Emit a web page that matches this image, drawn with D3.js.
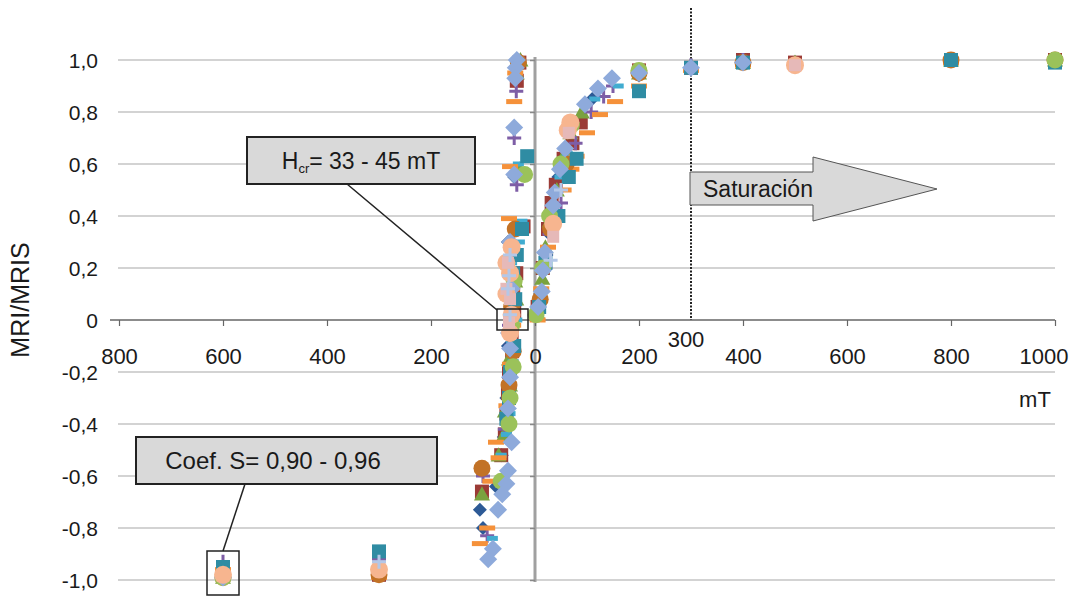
<!DOCTYPE html>
<html>
<head>
<meta charset="utf-8">
<script src="https://cdn.jsdelivr.net/npm/d3@7"></script>
<style>
  body { margin: 0; background: #fff; }
  svg { font-family: "Liberation Sans", Arial, sans-serif; }
</style>
</head>
<body>
<svg width="1072" height="596"></svg>
<script>
// ticks
var xTicks = [-800, -600, -400, -200, 0, 200, 400, 600, 800, 1000];
var yTicks = [-1, -0.8, -0.6, -0.4, -0.2, 0, 0.2, 0.4, 0.6, 0.8, 1];

// samples: [mT, MRI/MRIS]
var m1 = [[-32,0.98],[-40,0.55],[-52,0.30],[-48,0.20],[-50,0.10],[-46,0.0],[-52,-0.10],[-50,-0.20],[-55,-0.30],[-60,-0.45],[-64,-0.52],[-75,-0.64],[-106,-0.73],[-100,-0.80],[-300,-0.97],[-600,-0.98],
  [3,0.02],[10,0.10],[22,0.25],[28,0.33],[35,0.42],[45,0.55],[52,0.60],[60,0.66],[75,0.75],[110,0.85],[200,0.94],[300,0.97],[400,0.99],[500,0.99],[800,1.0],[1000,1.0]];
var m2 = [[-30,0.99],[-35,0.92],[-22,0.36],[-40,0.25],[-36,0.18],[-42,0.10],[-40,0.03],[-45,-0.05],[-44,-0.12],[-50,-0.20],[-52,-0.28],[-55,-0.36],[-58,-0.44],[-65,-0.52],[-102,-0.66],[-300,-0.98],[-600,-0.97],
  [5,0.05],[15,0.20],[25,0.35],[32,0.45],[40,0.52],[55,0.62],[72,0.68],[88,0.76],[200,0.96],[300,0.97],[400,1.0],[500,0.99],[800,1.0],[1000,1.0]];
var m3 = [[-28,1.0],[-35,0.95],[-30,0.58],[-45,0.30],[-38,0.15],[-36,0.08],[-44,0.02],[-42,-0.08],[-50,-0.15],[-48,-0.25],[-58,-0.35],[-62,-0.45],[-70,-0.52],[-102,-0.67],[-300,-0.96],[-600,-0.99],
  [4,0.03],[14,0.16],[20,0.28],[28,0.38],[42,0.50],[52,0.62],[68,0.72],[90,0.80],[200,0.95],[300,0.98],[400,0.99],[500,0.99],[800,1.0],[1000,1.0]];
var m4 = [[-36,0.97],[-36,0.88],[-40,0.70],[-35,0.52],[-42,0.30],[-40,0.14],[-50,-0.02],[-46,-0.10],[-48,-0.26],[-52,-0.34],[-58,-0.42],[-100,-0.60],[-92,-0.83],[-300,-0.92],[-600,-0.93],
  [8,0.06],[20,0.20],[28,0.33],[50,0.45],[65,0.60],[78,0.68],[108,0.80],[132,0.86],[150,0.90],[200,0.96],[300,0.98],[400,1.0],[800,1.0],[1000,1.0]];
var m5 = [[-30,1.0],[-32,0.60],[-25,0.38],[-30,0.30],[-45,0.22],[-40,0.08],[-35,0.0],[-45,-0.08],[-42,-0.16],[-50,-0.25],[-48,-0.36],[-55,-0.44],[-65,-0.52],[-82,-0.84],[-300,-0.95],[-600,-0.97],
  [6,0.04],[18,0.22],[30,0.38],[48,0.55],[62,0.64],[115,0.85],[160,0.90],[200,0.94],[300,0.98],[400,0.99],[500,0.98],[800,1.0],[1000,1.0]];
var m6 = [[-38,0.95],[-40,0.84],[-48,0.59],[-50,0.39],[-40,0.25],[-45,0.12],[-42,-0.02],[-48,-0.17],[-55,-0.33],[-75,-0.47],[-70,-0.53],[-86,-0.62],[-92,-0.80],[-106,-0.86],[-300,-0.99],[-600,-0.96],
  [5,0.0],[12,0.12],[25,0.28],[40,0.40],[55,0.50],[70,0.58],[80,0.63],[100,0.72],[125,0.79],[154,0.84],[200,0.90],[300,0.96],[400,0.98],[500,0.98],[800,0.99],[1000,1.0]];
var m7 = [[-32,0.99],[-38,0.35],[-45,0.05],[-42,-0.12],[-50,-0.25],[-102,-0.57],[-300,-0.98],[-600,-0.99],
  [10,0.08],[30,0.35],[60,0.60],[200,0.95],[400,0.99],[800,1.0],[1000,1.0]];
var m8 = [[-15,0.63],[-25,0.35],[-35,0.25],[-42,0.18],[-38,0.08],[-45,0.0],[-40,-0.10],[-48,-0.20],[-50,-0.30],[-55,-0.38],[-300,-0.89],[-600,-0.95],
  [8,0.05],[20,0.22],[45,0.40],[65,0.55],[80,0.62],[200,0.88],[300,0.97],[400,0.99],[800,1.0],[1000,0.99]];
var m9 = [[-20,0.56],[-40,0.15],[-45,-0.02],[-42,-0.18],[-48,-0.30],[-50,-0.40],[-65,-0.62],[-600,-0.99],
  [2,0.02],[15,0.20],[28,0.40],[50,0.60],[70,0.75],[200,0.96],[1000,1.0]];
var m10 = [[-35,1.0],[-37,0.97],[-38,0.93],[-40,0.74],[-40,0.56],[-48,0.30],[-45,0.12],[-50,-0.05],[-48,-0.11],[-48,-0.22],[-52,-0.34],[-45,-0.47],[-52,-0.58],[-55,-0.63],[-63,-0.67],[-71,-0.73],[-81,-0.88],[-90,-0.92],[-600,-0.99],
  [6,0.05],[13,0.11],[15,0.19],[19,0.26],[35,0.44],[38,0.49],[48,0.58],[58,0.66],[96,0.83],[121,0.89],[148,0.93],[200,0.95],[300,0.97],[400,0.99]];
var m11 = [[-45,0.28],[-55,0.22],[-48,0.18],[-55,0.10],[-45,0.02],[-48,-0.05],[-300,-0.96],[-600,-0.98],
  [35,0.37],[68,0.76],[63,0.73],[500,0.98]];
var m12 = [[-52,0.22],[-48,0.08],[-50,-0.01],[-55,0.12],[35,0.32],[65,0.72],[500,0.98]];
var m13 = [[-48,0.25],[-50,0.17],[-52,0.12],[-48,0.02],[-300,-0.93],[30,0.23],[50,0.50]];

var series = [
  { data: m1, shape: "diamond", size: 7, color: "#2d5a96" },
  { data: m2, shape: "square", size: 7, color: "#9b3b36" },
  { data: m3, shape: "triangle", size: 8, color: "#7aa23f" },
  { data: m4, shape: "plus", size: 7, color: "#7e5ea6" },
  { data: m5, shape: "dash", size: 5.5, color: "#41acd0" },
  { data: m6, shape: "dash", size: 8, color: "#f5913a" },
  { data: m7, shape: "circle", size: 8.5, color: "#c27226" },
  { data: m8, shape: "square", size: 7, color: "#2f8ca3" },
  { data: m9, shape: "circle", size: 8.5, color: "#9bc25a" },
  { data: m10, shape: "diamond", size: 9, color: "#8eaadb" },
  { data: m11, shape: "circle", size: 9, color: "#f7b58f" },
  { data: m12, shape: "square", size: 6, color: "#e6b9b8" },
  { data: m13, shape: "plus", size: 7, color: "#b4c7e7" }
];

var svg = d3.select("svg");

var x = d3.scaleLinear().domain([-800, 1000]).range([119, 1055]);
var y = d3.scaleLinear().domain([-1, 1]).range([580, 60]);

var fmt = function (d) { return d === 0 ? "0" : d.toFixed(1).replace(".", ","); };

// gridlines
svg.append("g").selectAll("line")
    .data(yTicks.filter(d => d !== 0))
    .enter().append("line")
    .attr("x1", 118).attr("x2", 1055)
    .attr("y1", d => y(d)).attr("y2", d => y(d))
    .style("stroke", "#c4c4c4").style("stroke-width", 1.5);

// y labels (far left)
svg.append("g").selectAll("text")
    .data(yTicks)
    .enter().append("text")
    .attr("x", 98).attr("y", d => y(d)).attr("dy", "0.36em")
    .attr("text-anchor", "end")
    .attr("font-size", 21).attr("fill", "#1a1a1a")
    .text(fmt);

// y axis line with small ticks
var yAxis = svg.append("g")
    .attr("transform", "translate(" + x(0) + ",0)")
    .call(d3.axisLeft(y).tickValues(yTicks).tickSize(5).tickFormat(""));
yAxis.select(".domain").style("stroke", "#a0a0a0").style("stroke-width", 3)
    .attr("d", "M0,57V582");
yAxis.selectAll(".tick line").style("stroke", "#888").style("stroke-width", 1.5);

// x axis at zero
var xAxis = svg.append("g")
    .attr("transform", "translate(0," + y(0) + ")")
    .call(d3.axisBottom(x).tickValues(xTicks).tickSize(6).tickPadding(22)
        .tickFormat(d => Math.abs(d)));
xAxis.select(".domain").style("stroke", "#666").style("stroke-width", 1.5)
    .attr("d", "M110,0H1055");
xAxis.selectAll(".tick line").style("stroke", "#666").style("stroke-width", 1.2);
xAxis.selectAll(".tick text").attr("font-size", 22).attr("fill", "#1a1a1a")
    .attr("font-family", "Liberation Sans, Arial, sans-serif");
xAxis.selectAll(".tick text").filter(d => d === 1000).attr("text-anchor", "end").attr("x", 13);

// dotted line at 300 mT
svg.append("line")
    .attr("x1", x(300)).attr("x2", x(300)).attr("y1", 8).attr("y2", y(0))
    .style("stroke", "#222").style("stroke-width", 2).style("stroke-dasharray", "2,1.5");
svg.append("text").attr("x", x(300) - 5).attr("y", 347)
    .attr("text-anchor", "middle").attr("font-size", 22).attr("fill", "#1a1a1a").text("300");

// saturation arrow
var arrow = [[690,172],[813,172],[813,157],[937,189],[813,221],[813,205],[690,205]];
svg.append("path").attr("d", d3.line()(arrow) + "Z")
    .style("fill", "#d9d9d9").style("stroke", "#555").style("stroke-width", 1);
svg.append("text").attr("x", 703).attr("y", 197).attr("font-size", 23).attr("fill", "#1a1a1a")
    .text("Saturación");

// markers
function drawMarker(sel, s) {
    var r = s.size;
    if (s.shape === "diamond") {
        sel.append("path").attr("d", "M0," + (-r) + "L" + r + ",0L0," + r + "L" + (-r) + ",0Z").style("fill", s.color);
    } else if (s.shape === "square") {
        sel.append("rect").attr("x", -r).attr("y", -r).attr("width", 2 * r).attr("height", 2 * r).style("fill", s.color);
    } else if (s.shape === "triangle") {
        sel.append("path").attr("d", "M0," + (-r) + "L" + r + "," + (r * 0.8) + "L" + (-r) + "," + (r * 0.8) + "Z").style("fill", s.color);
    } else if (s.shape === "circle") {
        sel.append("circle").attr("r", r).style("fill", s.color);
    } else if (s.shape === "plus") {
        sel.append("path").attr("d", "M" + (-r) + ",0H" + r + "M0," + (-r) + "V" + r)
            .style("stroke", s.color).style("stroke-width", 3).style("fill", "none");
    } else if (s.shape === "dash") {
        sel.append("rect").attr("x", -r).attr("y", -2.5).attr("width", 2 * r).attr("height", 5).style("fill", s.color);
    }
}

var plot = svg.append("g");
series.forEach(function (s) {
    plot.append("g").selectAll("g")
        .data(s.data)
        .enter().append("g")
        .attr("transform", d => "translate(" + x(d[0]) + "," + y(d[1]) + ")")
        .each(function () { drawMarker(d3.select(this), s); });
});

// annotation: Hcr
svg.append("rect").attr("x", 247).attr("y", 137).attr("width", 228).attr("height", 47)
    .style("fill", "#d9d9d9").style("stroke", "#222").style("stroke-width", 2);
var hcr = svg.append("text").attr("x", 361).attr("y", 169).attr("text-anchor", "middle")
    .attr("font-size", 23).attr("fill", "#1a1a1a");
hcr.append("tspan").text("H");
hcr.append("tspan").attr("font-size", 13).attr("dy", 4).text("cr");
hcr.append("tspan").attr("dy", -4).text("= 33 - 45 mT");
svg.append("line").attr("x1", 347).attr("y1", 184).attr("x2", 497).attr("y2", 310)
    .style("stroke", "#222").style("stroke-width", 1.5);
svg.append("rect").attr("x", 497).attr("y", 309).attr("width", 31).attr("height", 21)
    .style("fill", "none").style("stroke", "#222").style("stroke-width", 1.5);

// annotation: Coef. S
svg.append("rect").attr("x", 136).attr("y", 437).attr("width", 301).attr("height", 47)
    .style("fill", "#d9d9d9").style("stroke", "#222").style("stroke-width", 2);
svg.append("text").attr("x", 273).attr("y", 469).attr("text-anchor", "middle")
    .attr("font-size", 24).attr("fill", "#1a1a1a").text("Coef. S= 0,90 - 0,96");
svg.append("line").attr("x1", 245).attr("y1", 484).attr("x2", 223).attr("y2", 551)
    .style("stroke", "#222").style("stroke-width", 1.5);
svg.append("rect").attr("x", 207).attr("y", 551).attr("width", 32).attr("height", 44)
    .style("fill", "none").style("stroke", "#222").style("stroke-width", 1.5);

// axis titles
svg.append("text").attr("transform", "translate(29,300) rotate(-90)")
    .attr("text-anchor", "middle").attr("font-size", 25).attr("fill", "#1a1a1a").text("MRI/MRIS");
svg.append("text").attr("x", 1035).attr("y", 407).attr("text-anchor", "middle")
    .attr("font-size", 22).attr("fill", "#1a1a1a").text("mT");
</script>
</body>
</html>
